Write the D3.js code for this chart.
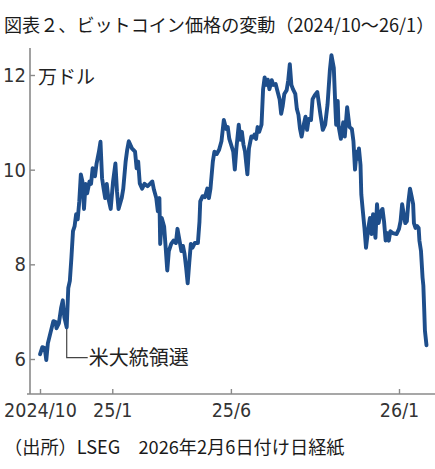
<!DOCTYPE html>
<html><head><meta charset="utf-8">
<script src="https://cdn.jsdelivr.net/npm/d3@7"></script>
<style>
html,body{margin:0;padding:0;background:#fff;}
svg{display:block;}
</style></head>
<body>
<svg id="chart" width="435" height="469"></svg>
<script>
const title = "図表２、ビットコイン価格の変動（2024/10～26/1）";
const unitLabel = "万ドル";
const source = "（出所）LSEG　2026年2月6日付け日経紙";
const annotationText = "米大統領選";
const annotationDate = "2024-11-04";
const yTicks = [6, 8, 10, 12];
const xTickDates = ["2024-10-01", "2025-01-01", "2025-06-01", "2026-01-01"];
const xTickLabels = ["2024/10", "25/1", "25/6", "26/1"];

const dates = [
"2024-10-01","2024-10-04","2024-10-07","2024-10-09","2024-10-11","2024-10-15","2024-10-18","2024-10-21","2024-10-22","2024-10-25",
"2024-10-28","2024-10-30","2024-11-01","2024-11-04","2024-11-06","2024-11-08","2024-11-10","2024-11-12","2024-11-14","2024-11-16",
"2024-11-18","2024-11-20","2024-11-22","2024-11-24","2024-11-26","2024-11-28","2024-11-30","2024-12-03","2024-12-05","2024-12-07",
"2024-12-10","2024-12-12","2024-12-15","2024-12-17","2024-12-19","2024-12-21","2024-12-23","2024-12-25","2024-12-27","2024-12-30",
"2025-01-02","2025-01-05","2025-01-07","2025-01-09","2025-01-13","2025-01-15","2025-01-18","2025-01-20","2025-01-22","2025-01-26",
"2025-01-30","2025-02-01","2025-02-03","2025-02-05","2025-02-08","2025-02-11","2025-02-15","2025-02-18","2025-02-21","2025-02-23",
"2025-02-26","2025-02-28","2025-03-02","2025-03-03","2025-03-05","2025-03-08","2025-03-10","2025-03-12","2025-03-14","2025-03-17",
"2025-03-20","2025-03-23","2025-03-25","2025-03-27","2025-03-30","2025-04-01","2025-04-03","2025-04-05","2025-04-07","2025-04-09",
"2025-04-11","2025-04-13","2025-04-16","2025-04-20","2025-04-22","2025-04-23","2025-04-26","2025-04-29","2025-05-02","2025-05-04",
"2025-05-06","2025-05-09","2025-05-11","2025-05-14","2025-05-17","2025-05-20","2025-05-23","2025-05-26","2025-05-28","2025-05-30",
"2025-06-02","2025-06-04","2025-06-06","2025-06-08","2025-06-11","2025-06-13","2025-06-15","2025-06-17","2025-06-19","2025-06-22",
"2025-06-24","2025-06-27","2025-06-29","2025-07-01","2025-07-03","2025-07-05","2025-07-07","2025-07-10","2025-07-12","2025-07-14",
"2025-07-16","2025-07-18","2025-07-20","2025-07-23","2025-07-25","2025-07-28","2025-07-30","2025-08-02","2025-08-04","2025-08-06",
"2025-08-08","2025-08-11","2025-08-13","2025-08-15","2025-08-17","2025-08-19","2025-08-22","2025-08-24","2025-08-26","2025-08-28",
"2025-08-30","2025-09-02","2025-09-04","2025-09-06","2025-09-08","2025-09-11","2025-09-13","2025-09-16","2025-09-19","2025-09-23",
"2025-09-26","2025-09-29","2025-10-02","2025-10-05","2025-10-07","2025-10-10","2025-10-12","2025-10-13","2025-10-15","2025-10-16",
"2025-10-19","2025-10-22","2025-10-24","2025-10-27","2025-10-30","2025-11-02","2025-11-04","2025-11-06","2025-11-08","2025-11-10",
"2025-11-11","2025-11-13","2025-11-14","2025-11-16","2025-11-18","2025-11-20","2025-11-23","2025-11-25","2025-11-27","2025-11-29",
"2025-12-02","2025-12-04","2025-12-06","2025-12-09","2025-12-11","2025-12-13","2025-12-15","2025-12-17","2025-12-19","2025-12-21",
"2025-12-24","2025-12-29","2026-01-01","2026-01-03","2026-01-05","2026-01-07","2026-01-09","2026-01-11","2026-01-13","2026-01-15",
"2026-01-17","2026-01-19","2026-01-20","2026-01-22","2026-01-24","2026-01-26","2026-01-27","2026-01-29","2026-01-31","2026-02-01",
"2026-02-02","2026-02-03","2026-02-05"
];
const prices = [
6.10,6.25,6.23,5.98,6.33,6.60,6.80,6.78,6.65,6.75,
7.09,7.24,6.88,6.67,7.50,7.65,8.14,8.70,8.80,9.06,
8.95,9.33,9.90,9.75,9.17,9.70,9.50,9.75,9.70,10.03,
9.86,10.13,10.38,10.59,9.82,9.60,9.40,9.70,9.40,9.17,
9.75,10.13,9.54,9.17,9.40,9.60,10.17,10.42,10.60,10.45,
10.38,10.03,10.17,9.71,9.60,9.70,9.65,9.70,9.75,9.58,
9.40,9.12,9.40,8.43,8.98,8.80,8.35,7.87,8.28,8.43,
8.50,8.45,8.75,8.56,8.28,8.39,8.22,7.93,7.60,8.03,
8.43,8.35,8.45,8.45,8.90,9.33,9.44,9.42,9.60,9.40,
9.60,10.17,10.38,10.33,10.42,10.60,11.05,10.86,10.90,10.65,
10.49,10.38,10.00,10.45,10.95,10.63,10.80,10.53,10.38,9.90,
10.45,10.70,10.68,10.74,10.65,10.90,10.80,10.95,11.70,11.95,
11.79,11.90,11.70,11.89,11.79,11.81,11.68,11.49,11.18,11.35,
11.60,11.68,11.89,12.23,11.79,11.70,11.60,11.28,11.16,10.86,
10.70,10.97,11.12,10.84,11.07,11.05,11.49,11.58,11.64,11.16,
10.84,10.95,11.37,12.10,12.42,12.15,11.32,10.95,11.45,10.93,
10.65,11.00,10.70,11.32,10.90,10.86,10.60,10.00,10.38,10.23,
10.45,10.10,9.48,9.12,8.77,8.35,8.77,8.98,8.64,9.06,
8.56,9.27,8.87,9.12,9.17,8.90,8.50,8.66,8.50,8.70,
8.66,8.64,8.75,8.91,9.27,9.06,8.87,8.91,9.33,9.60,
9.44,9.27,8.87,8.77,8.81,8.77,8.50,8.28,7.72,7.55,
7.09,6.60,6.29
];

const W = 435, H = 469;
const parse = d3.timeParse("%Y-%m-%d");
const data = dates.map((d, i) => ({date: parse(d), value: prices[i]}));

const svg = d3.select("#chart");
const numFont = "'Liberation Sans Narrow','DejaVu Sans Condensed','Liberation Sans',sans-serif";
const jpFont = "'Noto Sans CJK JP','Noto Sans',sans-serif";

const x = d3.scaleTime()
  .domain([parse(xTickDates[0]), parse(xTickDates[3])])
  .range([40, 399]);
const y = d3.scaleLinear().domain([6, 12]).range([359, 75]);

const axisColor = "#8a8a8a";
const axisLeftX = 30, axisBottomY = 394;

// axis lines
svg.append("line").attr("x1", axisLeftX).attr("x2", axisLeftX)
  .attr("y1", 48).attr("y2", axisBottomY)
  .attr("stroke", axisColor).attr("stroke-width", 1.6);
svg.append("line").attr("x1", 27).attr("x2", W)
  .attr("y1", axisBottomY).attr("y2", axisBottomY)
  .attr("stroke", axisColor).attr("stroke-width", 1.6);

// y axis
const yAxis = d3.axisLeft(y).tickValues(yTicks).tickFormat(d3.format("d"))
  .tickSizeInner(-5).tickSizeOuter(0).tickPadding(4);
const gy = svg.append("g").attr("transform", `translate(${axisLeftX},0)`).call(yAxis);
gy.select(".domain").remove();
gy.selectAll(".tick line").attr("stroke", axisColor).attr("stroke-width", 1.4);
gy.selectAll(".tick text").attr("font-family", numFont).attr("font-size", 20).attr("fill", "#333");

// x axis
const xAxis = d3.axisBottom(x).tickValues(xTickDates.map(parse))
  .tickFormat((d, i) => xTickLabels[i]).tickSizeInner(-5).tickSizeOuter(0).tickPadding(9);
const gx = svg.append("g").attr("transform", `translate(0,${axisBottomY})`).call(xAxis);
gx.select(".domain").remove();
gx.selectAll(".tick line").attr("stroke", axisColor).attr("stroke-width", 1.4);
gx.selectAll(".tick text").attr("font-family", numFont).attr("font-size", 19.5).attr("fill", "#333");

// annotation leader
const ax = x(parse(annotationDate));
svg.append("path")
  .attr("d", `M${ax},${y(6.67)} V${y(6.03)} H${ax + 21}`)
  .attr("fill", "none").attr("stroke", "#444").attr("stroke-width", 1.2);
svg.append("text").attr("x", ax + 22).attr("y", y(6.03) + 7)
  .attr("font-family", jpFont).attr("font-size", 20).attr("fill", "#222")
  .text(annotationText);

// line
const line = d3.line().x(d => x(d.date)).y(d => y(d.value));
svg.append("path").datum(data)
  .attr("d", line).attr("fill", "none")
  .attr("stroke", "#1e4e8b").attr("stroke-width", 3.9)
  .attr("stroke-linejoin", "round").attr("stroke-linecap", "round");

// unit label
svg.append("text").attr("x", 38).attr("y", y(12) + 9)
  .attr("font-family", jpFont).attr("font-size", 19).attr("fill", "#222")
  .text(unitLabel);

// title
svg.append("text").attr("x", 4).attr("y", 32)
  .attr("font-family", jpFont).attr("font-size", 18.1).attr("fill", "#1a1a1a")
  .text(title);

// source
svg.append("text").attr("x", 4).attr("y", 454)
  .attr("font-family", jpFont).attr("font-size", 18.2).attr("fill", "#1a1a1a")
  .text(source);
</script>
</body></html>
